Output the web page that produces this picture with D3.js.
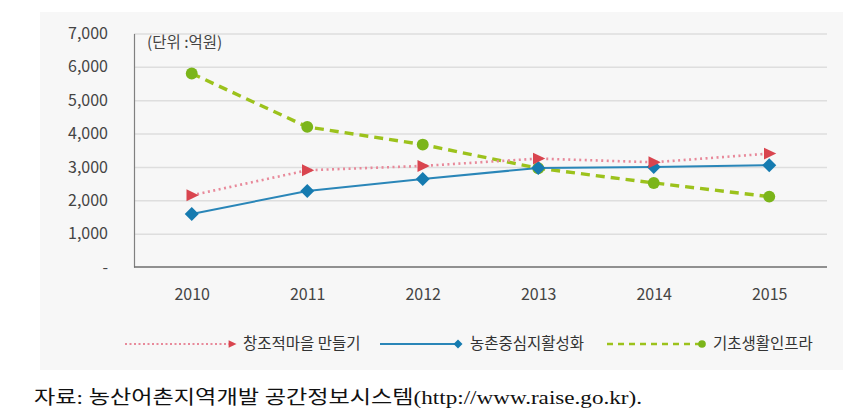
<!DOCTYPE html>
<html>
<head>
<meta charset="utf-8">
<script src="https://cdn.jsdelivr.net/npm/d3@7"></script>
<style>
  html, body { margin: 0; padding: 0; background: #ffffff; }
  svg { display: block; }
  text { font-family: "Noto Sans CJK KR", "Noto Sans", sans-serif; }
</style>
</head>
<body>
<svg id="chart" width="854" height="419"></svg>
<script>
const years = ["2010", "2011", "2012", "2013", "2014", "2015"];
const seriesNames = ["창조적마을 만들기", "농촌중심지활성화", "기초생활인프라"];
const villageValues = [2150, 2900, 3030, 3250, 3140, 3400];
const centerValues = [1590, 2280, 2640, 2970, 3000, 3050];
const infraValues = [5800, 4200, 3670, 2960, 2520, 2110];
const yTicks = [0, 1000, 2000, 3000, 4000, 5000, 6000, 7000];
const unitLabel = "(단위 :억원)";
const sourceLabel = "자료:  농산어촌지역개발  공간정보시스템(http://www.raise.go.kr).";

const svg = d3.select("#chart");

// panel background
svg.append("rect").attr("x", 40).attr("y", 12).attr("width", 803).attr("height", 358).attr("fill", "#f7f7f7");

const plot = { left: 134, right: 827, top: 33.5, bottom: 267 };
const x = d3.scalePoint().domain(years).range([plot.left, plot.right]).padding(0.5);
const y = d3.scaleLinear().domain([0, 7000]).range([plot.bottom, plot.top]);

// gridlines
const grid = svg.append("g").attr("transform", `translate(${plot.left},0)`)
  .call(d3.axisLeft(y).tickValues(yTicks.filter(d => d > 0)).tickSize(-(plot.right - plot.left)).tickFormat(""));
grid.select(".domain").remove();
grid.selectAll("line").attr("stroke", "#dedede").attr("stroke-width", 1.5);

// y axis
const yAxis = svg.append("g").attr("transform", `translate(${plot.left},0)`)
  .call(d3.axisLeft(y).tickValues(yTicks).tickSize(0).tickPadding(26)
    .tickFormat(d => d === 0 ? "-" : d3.format(",")(d)));
yAxis.select(".domain").attr("stroke", "#808080").attr("stroke-width", 1.2);
yAxis.selectAll("text").attr("font-size", 16).attr("fill", "#444");

// x axis
const xAxis = svg.append("g").attr("transform", `translate(0,${plot.bottom})`)
  .call(d3.axisBottom(x).tickSize(0).tickPadding(22));
xAxis.select(".domain").attr("d", `M${plot.left},0H${plot.right}`).attr("stroke", "#6e6e6e").attr("stroke-width", 1.5);
xAxis.selectAll("text").attr("font-size", 16).attr("fill", "#444");

// unit label
svg.append("text").attr("x", 147).attr("y", 48).attr("font-size", 15.5).attr("fill", "#444").text(unitLabel);

const line = d3.line().x((d, i) => x(years[i])).y(d => y(d));

const styles = [
  { values: villageValues, stroke: "#e8899a", width: 2.6, dash: "2,3.5", marker: "tri", fill: "#d9454f" },
  { values: centerValues, stroke: "#2a86b8", width: 2, dash: null, marker: "dia", fill: "#167bb0" },
  { values: infraValues, stroke: "#9cc21c", width: 3.4, dash: "9,6", marker: "circ", fill: "#7bb51a" }
];

function drawMarker(g, type, cx, cy, s, fill) {
  if (type === "tri") {
    g.append("path").attr("d", `M${cx - s * 0.75},${cy - s * 0.85}L${cx + s},${cy}L${cx - s * 0.75},${cy + s * 0.85}Z`).attr("fill", fill);
  } else if (type === "dia") {
    g.append("path").attr("d", `M${cx},${cy - s}L${cx + s},${cy}L${cx},${cy + s}L${cx - s},${cy}Z`).attr("fill", fill);
  } else {
    g.append("circle").attr("cx", cx).attr("cy", cy).attr("r", s * 0.85).attr("fill", fill);
  }
}

// draw order: infra, center, village
[2, 1, 0].forEach(k => {
  const st = styles[k];
  const g = svg.append("g");
  g.append("path").datum(st.values).attr("d", line).attr("fill", "none")
    .attr("stroke", st.stroke).attr("stroke-width", st.width)
    .attr("stroke-dasharray", st.dash);
  st.values.forEach((v, i) => drawMarker(g, st.marker, x(years[i]), y(v), 7, st.fill));
});

// legend
const legendY = 344;
const legendItems = [
  { x1: 125, x2: 230, tx: 243 },
  { x1: 380, x2: 456, tx: 470 },
  { x1: 607, x2: 700, tx: 713 }
];
legendItems.forEach((it, k) => {
  const st = styles[k];
  const g = svg.append("g");
  g.append("line").attr("x1", it.x1).attr("x2", it.x2).attr("y1", legendY).attr("y2", legendY)
    .attr("stroke", st.stroke).attr("stroke-width", k === 2 ? 2.6 : 2)
    .attr("stroke-dasharray", k === 0 ? "2,2.5" : (k === 2 ? "6,5" : null));
  drawMarker(g, st.marker, it.x2 + 2, legendY, 4.5, st.fill);
  g.append("text").attr("x", it.tx).attr("y", legendY).attr("dy", "0.35em")
    .attr("font-size", 15.5).attr("fill", "#333").text(seriesNames[k]);
});

// source
svg.append("text").attr("x", 34).attr("y", 404).attr("font-size", 19)
  .style("font-family", "'Liberation Serif', 'Noto Sans CJK KR', serif")
  .attr("fill", "#111").attr("textLength", 608).attr("lengthAdjust", "spacingAndGlyphs")
  .text(sourceLabel);
</script>
</body>
</html>
